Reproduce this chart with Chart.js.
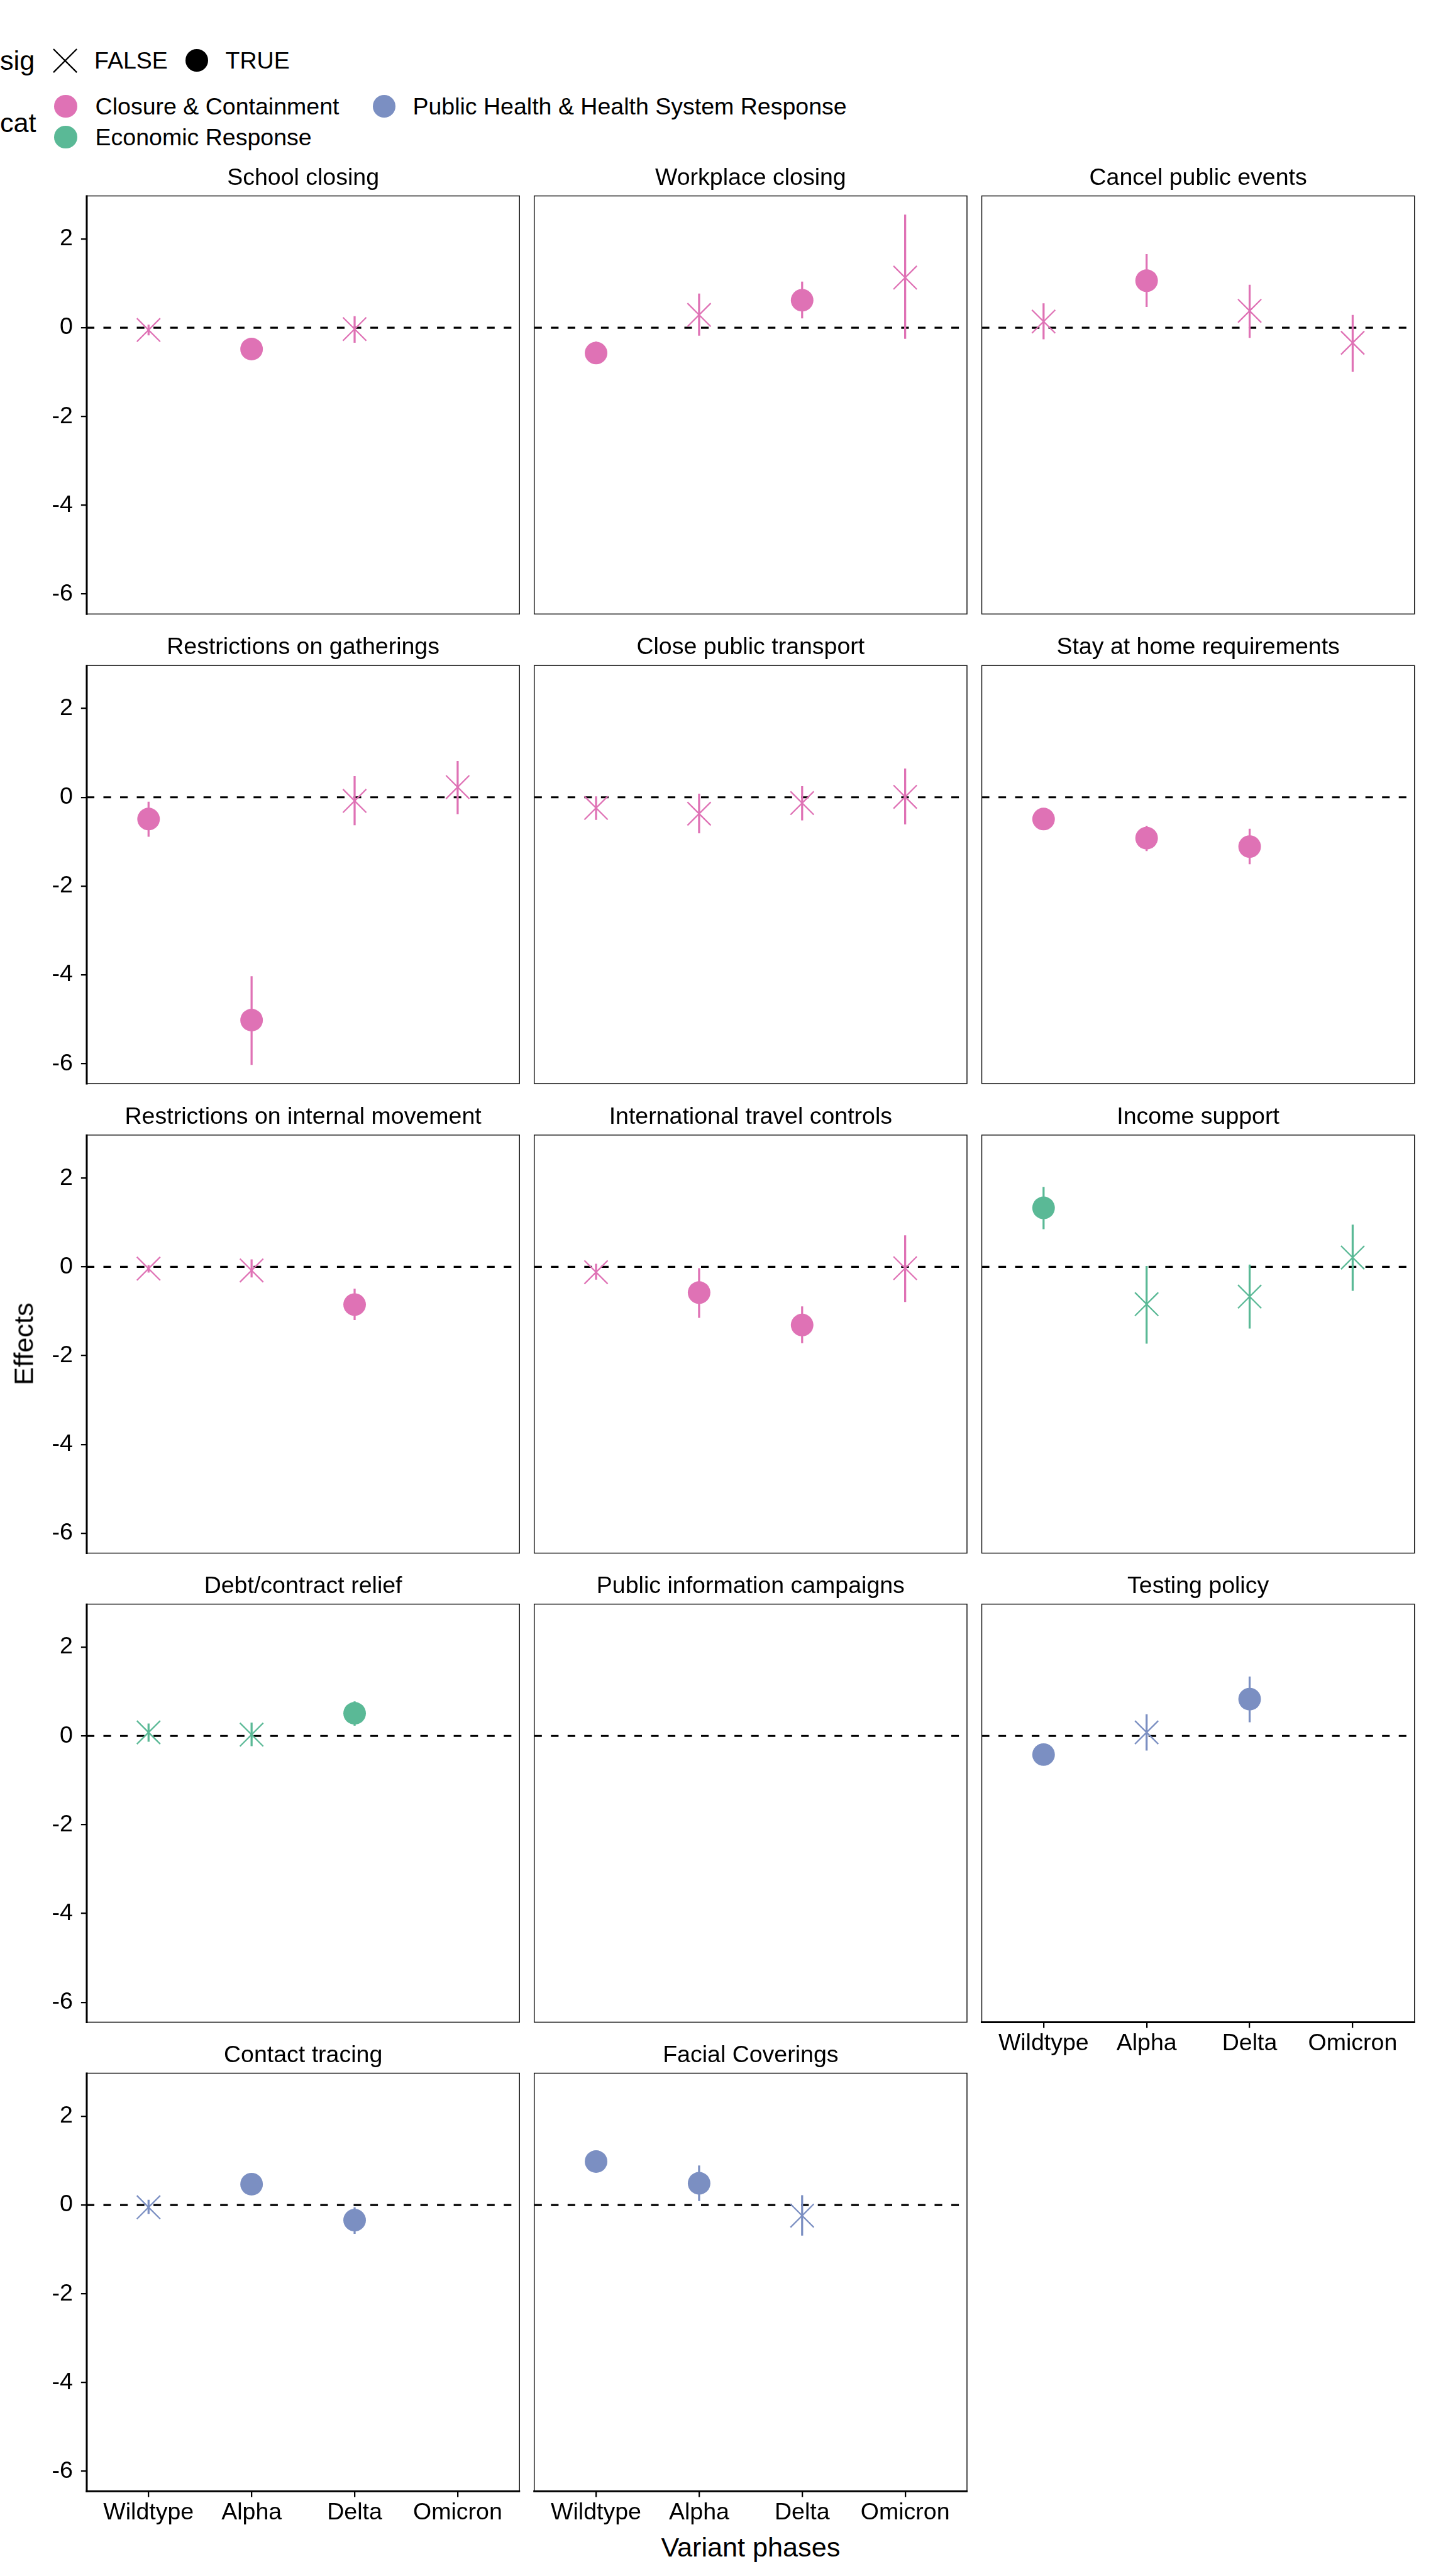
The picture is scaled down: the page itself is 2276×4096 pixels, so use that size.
<!DOCTYPE html>
<html>
<head>
<meta charset="utf-8">
<script src="https://cdn.jsdelivr.net/npm/chart.js@4.4.1/dist/chart.umd.min.js"></script>
<style>
html, body { margin: 0; padding: 0; background: #ffffff; }
body { width: 2276px; height: 4096px; position: relative; overflow: hidden;
       font-family: 'Liberation Sans', Arial, Helvetica, sans-serif; color: #000; }
canvas { position: absolute; }
.t { position: absolute; white-space: nowrap; line-height: 1; color: #000; }
.dot { position: absolute; border-radius: 50%; }
svg { position: absolute; }
</style>
</head>
<body>
<script>
// ---------------- data ----------------
const phases = ['Wildtype', 'Alpha', 'Delta', 'Omicron'];
const policies = ['School closing', 'Workplace closing', 'Cancel public events',
  'Restrictions on gatherings', 'Close public transport', 'Stay at home requirements',
  'Restrictions on internal movement', 'International travel controls', 'Income support',
  'Debt/contract relief', 'Public information campaigns', 'Testing policy',
  'Contact tracing', 'Facial Coverings'];
const categories = ['Closure & Containment', 'Economic Response', 'Public Health & Health System Response'];
const categoryColors = ['#DF72B5', '#5AB996', '#7B8FC2'];
const policyCategory = [0, 0, 0, 0, 0, 0, 0, 0, 1, 1, 2, 2, 2, 2];

const effectWildtype = [-0.05, -0.57, 0.14, -0.49, -0.24, -0.49, -0.04, -0.12, 1.33, 0.08, null, -0.42, -0.05, 0.98];
const lowerWildtype  = [-0.17, -0.82, -0.26, -0.89, -0.51, -0.69, -0.13, -0.29, 0.85, -0.13, null, -0.62, -0.20, 0.78];
const upperWildtype  = [0.07, -0.31, 0.55, -0.10, 0.02, -0.29, 0.04, 0.07, 1.80, 0.28, null, -0.22, 0.12, 1.18];
const sigWildtype    = [false, true, false, true, false, true, false, false, true, false, null, true, false, true];

const effectAlpha = [-0.48, 0.29, 1.06, -5.02, -0.37, -0.92, -0.08, -0.58, -0.84, 0.03, null, 0.08, 0.47, 0.49];
const lowerAlpha  = [-0.68, -0.18, 0.47, -6.03, -0.81, -1.21, -0.24, -1.15, -1.73, -0.23, null, -0.33, 0.27, 0.09];
const upperAlpha  = [-0.28, 0.77, 1.66, -4.03, 0.08, -0.64, 0.17, -0.03, 0.02, 0.30, null, 0.49, 0.67, 0.89];
const sigAlpha    = [true, false, true, true, false, true, false, true, false, false, null, false, true, true];

const effectDelta = [-0.03, 0.62, 0.38, -0.08, -0.13, -1.11, -0.85, -1.31, -0.67, 0.51, null, 0.83, -0.34, -0.24];
const lowerDelta  = [-0.34, 0.21, -0.23, -0.63, -0.52, -1.51, -1.20, -1.72, -1.39, 0.23, null, 0.31, -0.65, -0.69];
const upperDelta  = [0.26, 1.04, 0.97, 0.48, 0.25, -0.71, -0.49, -0.89, 0.05, 0.78, null, 1.34, -0.05, 0.22];
const sigDelta    = [false, true, false, false, false, true, true, true, false, true, null, true, true, false];

const effectOmicron = [null, 1.13, -0.34, 0.23, 0.01, null, null, -0.03, 0.21, null, null, null, null, null];
const lowerOmicron  = [null, -0.25, -0.99, -0.38, -0.61, null, null, -0.79, -0.54, null, null, null, null, null];
const upperOmicron  = [null, 2.55, 0.29, 0.82, 0.65, null, null, 0.71, 0.95, null, null, null, null, null];
const sigOmicron    = [null, false, false, false, false, null, null, false, false, null, null, null, null, null];

const yTickValues = [-6, -4, -2, 0, 2];
const yTickLabels = ['-6', '-4', '-2', '0', '2'];
const yMin = -6.45, yMax = 2.97;
const xMin = 0.4, xMax = 4.6;
const refLine = 0;
const sigLabels = ['FALSE', 'TRUE'];

const effects = [effectWildtype, effectAlpha, effectDelta, effectOmicron];
const lowers = [lowerWildtype, lowerAlpha, lowerDelta, lowerOmicron];
const uppers = [upperWildtype, upperAlpha, upperDelta, upperOmicron];
const sigs = [sigWildtype, sigAlpha, sigDelta, sigOmicron];

// ---------------- layout (reference px, scaled by S) ----------------
const S = 0.758;
const FONT = "'Liberation Sans', Arial, Helvetica, sans-serif";
Chart.defaults.font.family = FONT;
Chart.defaults.color = '#000';

const colLeft = [182, 1121, 2060];
const rowTop = [411, 1396, 2381, 3365, 4349];
const panelW = 908, panelH = 877;
const bottomPanels = [11, 12, 13];
const textSize = 49.5 * S;
const titleSize = 57 * S;

const panelFrame = {
  id: 'panelFrame',
  afterDraw(chart, args, opts) {
    const { left, top, right, bottom } = chart.chartArea;
    const ctx = chart.ctx;
    ctx.save();
    ctx.strokeStyle = '#1a1a1a';
    ctx.lineWidth = 2 * S;
    ctx.strokeRect(left, top, right - left, bottom - top);
    ctx.strokeStyle = '#000';
    ctx.lineWidth = 4 * S;
    ctx.lineCap = 'butt';
    if (opts.axisLeft) {
      ctx.beginPath(); ctx.moveTo(left, top - 1); ctx.lineTo(left, bottom + 2 * S); ctx.stroke();
    }
    if (opts.axisBottom) {
      ctx.beginPath(); ctx.moveTo(left - 2 * S, bottom); ctx.lineTo(right + 1, bottom); ctx.stroke();
    }
    ctx.restore();
  }
};

function makePanel(i) {
  const r = Math.floor(i / 3), c = i % 3;
  const showY = c === 0;
  const showX = bottomPanels.includes(i);
  const pl = colLeft[c] * S, pt = rowTop[r] * S, pw = panelW * S, ph = panelH * S;
  const E = 4;
  const YW = 182 * S, XH = 80 * S;
  const titlePadBottom = 37 * S - 0.6 * textSize;
  const titleBlockMin = 6 + 1.2 * textSize + titlePadBottom;

  const cx = Math.floor(pl - (showY ? YW : E));
  const cy = Math.floor(pt - titleBlockMin);
  const cw = Math.ceil(pl + pw + E - cx);
  const ch = Math.ceil(pt + ph + (showX ? XH : E) - cy);
  const leftPad = showY ? 0 : (pl - cx);
  const yAxisW = showY ? (pl - cx) : 0;
  const xAxisH = showX ? XH : 0;
  const titlePadTop = (pt - cy) - 1.2 * textSize - titlePadBottom;
  const rightPad = cw - (pl + pw - cx);
  const bottomPad = ch - (pt + ph - cy) - xAxisH;

  const canvas = document.createElement('canvas');
  canvas.width = cw; canvas.height = ch;
  canvas.style.left = cx + 'px'; canvas.style.top = cy + 'px';
  canvas.style.width = cw + 'px'; canvas.style.height = ch + 'px';
  document.body.appendChild(canvas);

  const col = categoryColors[policyCategory[i]];
  const sigPts = [], nsPts = [], bars = [];
  for (let k = 0; k < phases.length; k++) {
    const e = effects[k][i];
    if (e === null) continue;
    (sigs[k][i] ? sigPts : nsPts).push({ x: k + 1, y: e });
    bars.push({ x: k + 1, y: lowers[k][i] }, { x: k + 1, y: uppers[k][i] }, { x: k + 1, y: null });
  }

  const tickGrid = { display: true, drawOnChartArea: false, drawTicks: true,
    tickLength: 12 * S, tickWidth: 3 * S, lineWidth: 3 * S, tickColor: '#000', color: '#000' };

  new Chart(canvas, {
    type: 'scatter',
    data: {
      datasets: [
        { type: 'line', data: [{ x: xMin, y: refLine }, { x: xMax, y: refLine }], borderColor: '#000',
          borderWidth: 4 * S, borderDash: [16 * S, 19 * S], pointRadius: 0, showLine: true,
          fill: false, order: 3 },
        { type: 'line', data: bars, borderColor: col, borderWidth: 4.3 * S, pointRadius: 0,
          spanGaps: false, showLine: true, fill: false, order: 2, borderCapStyle: 'butt' },
        { type: 'scatter', data: sigPts, pointStyle: 'circle', pointRadius: 23.7 * S,
          backgroundColor: col, borderColor: col, borderWidth: 0, order: 1 },
        { type: 'scatter', data: nsPts, pointStyle: 'crossRot', pointRadius: 34.6 * S,
          borderColor: col, backgroundColor: col, borderWidth: 3 * S, order: 1 }
      ]
    },
    options: {
      responsive: false,
      animation: false,
      events: [],
      devicePixelRatio: 1,
      layout: { autoPadding: false, padding: { left: leftPad, right: rightPad, top: 0, bottom: bottomPad } },
      scales: {
        x: {
          type: 'linear', min: xMin, max: xMax, display: showX,
          grid: tickGrid,
          border: { display: false },
          ticks: { font: { size: textSize, family: FONT }, color: '#000', padding: 45 * S - 12 * S - 0.6 * textSize,
                   maxRotation: 0, minRotation: 0, autoSkip: false,
                   callback: (v) => phases[v - 1] !== undefined ? phases[v - 1] : '' },
          afterBuildTicks: (s) => { s.ticks = phases.map((p, k) => ({ value: k + 1 })); },
          afterFit: (s) => { s.height = xAxisH; s.paddingLeft = 0; s.paddingRight = 0; }
        },
        y: {
          type: 'linear', min: yMin, max: yMax, display: showY,
          grid: tickGrid,
          border: { display: false },
          ticks: { font: { size: textSize, family: FONT }, color: '#000', padding: 17 * S,
                   callback: (v) => { const j = yTickValues.indexOf(v); return j >= 0 ? yTickLabels[j] : ''; } },
          afterBuildTicks: (s) => { s.ticks = yTickValues.map(v => ({ value: v })); },
          afterFit: (s) => { s.width = yAxisW; s.paddingTop = 0; s.paddingBottom = 0; }
        }
      },
      plugins: {
        legend: { display: false },
        tooltip: { enabled: false },
        title: { display: true, text: policies[i], fullSize: false, color: '#000',
                 font: { size: textSize, weight: 'normal', family: FONT, lineHeight: 1.2 },
                 padding: { top: titlePadTop, bottom: titlePadBottom } },
        panelFrame: { axisLeft: showY, axisBottom: showX }
      }
    },
    plugins: [panelFrame]
  });
}

for (let i = 0; i < policies.length; i++) makePanel(i);

// ---------------- text & legend ----------------
function addText(str, x, cy, size, align) {
  const d = document.createElement('div');
  d.className = 't';
  d.textContent = str;
  d.style.fontSize = size + 'px';
  d.style.left = x + 'px';
  d.style.top = (cy - 0.49 * size) + 'px';
  if (align === 'center') d.style.transform = 'translateX(-50%)';
  document.body.appendChild(d);
  return d;
}
function addDot(cx, cy, r, color) {
  const d = document.createElement('div');
  d.className = 'dot';
  d.style.left = (cx - r) + 'px'; d.style.top = (cy - r) + 'px';
  d.style.width = (2 * r) + 'px'; d.style.height = (2 * r) + 'px';
  d.style.background = color;
  document.body.appendChild(d);
}
function addCross(cx, cy, h, w, color) {
  const ns = 'http://www.w3.org/2000/svg';
  const svg = document.createElementNS(ns, 'svg');
  const sz = 2 * h + 4;
  svg.setAttribute('width', sz); svg.setAttribute('height', sz);
  svg.style.left = (cx - sz / 2) + 'px'; svg.style.top = (cy - sz / 2) + 'px';
  const p = document.createElementNS(ns, 'path');
  const c = sz / 2;
  p.setAttribute('d', `M${c - h},${c - h}L${c + h},${c + h}M${c + h},${c - h}L${c - h},${c + h}`);
  p.setAttribute('stroke', color); p.setAttribute('stroke-width', w); p.setAttribute('fill', 'none');
  svg.appendChild(p);
  document.body.appendChild(svg);
}

// legend: sig
addText('sig', 0, 127 * S, titleSize);
addCross(137 * S, 127 * S, 24.5 * S, 3 * S, '#000');
addText(sigLabels[0], 198 * S, 127 * S, textSize);
addDot(413 * S, 127 * S, 23.7 * S, '#000');
addText(sigLabels[1], 473 * S, 127 * S, textSize);
// legend: cat
addText('cat', 0, 257 * S, titleSize);
addDot(138 * S, 223 * S, 24 * S, categoryColors[0]);
addText(categories[0], 200 * S, 223 * S, textSize);
addDot(806 * S, 223 * S, 24 * S, categoryColors[2]);
addText(categories[2], 866 * S, 223 * S, textSize);
addDot(138 * S, 288 * S, 24 * S, categoryColors[1]);
addText(categories[1], 200 * S, 288 * S, textSize);

// axis titles
addText('Variant phases', 1575 * S, 5343 * S, titleSize, 'center');
const eff = document.createElement('div');
eff.className = 't';
eff.textContent = 'Effects';
eff.style.fontSize = titleSize + 'px';
eff.style.left = (50 * S) + 'px';
eff.style.top = (2819 * S) + 'px';
eff.style.transform = 'translate(-50%, -50%) rotate(-90deg)';
document.body.appendChild(eff);
</script>
</body>
</html>
